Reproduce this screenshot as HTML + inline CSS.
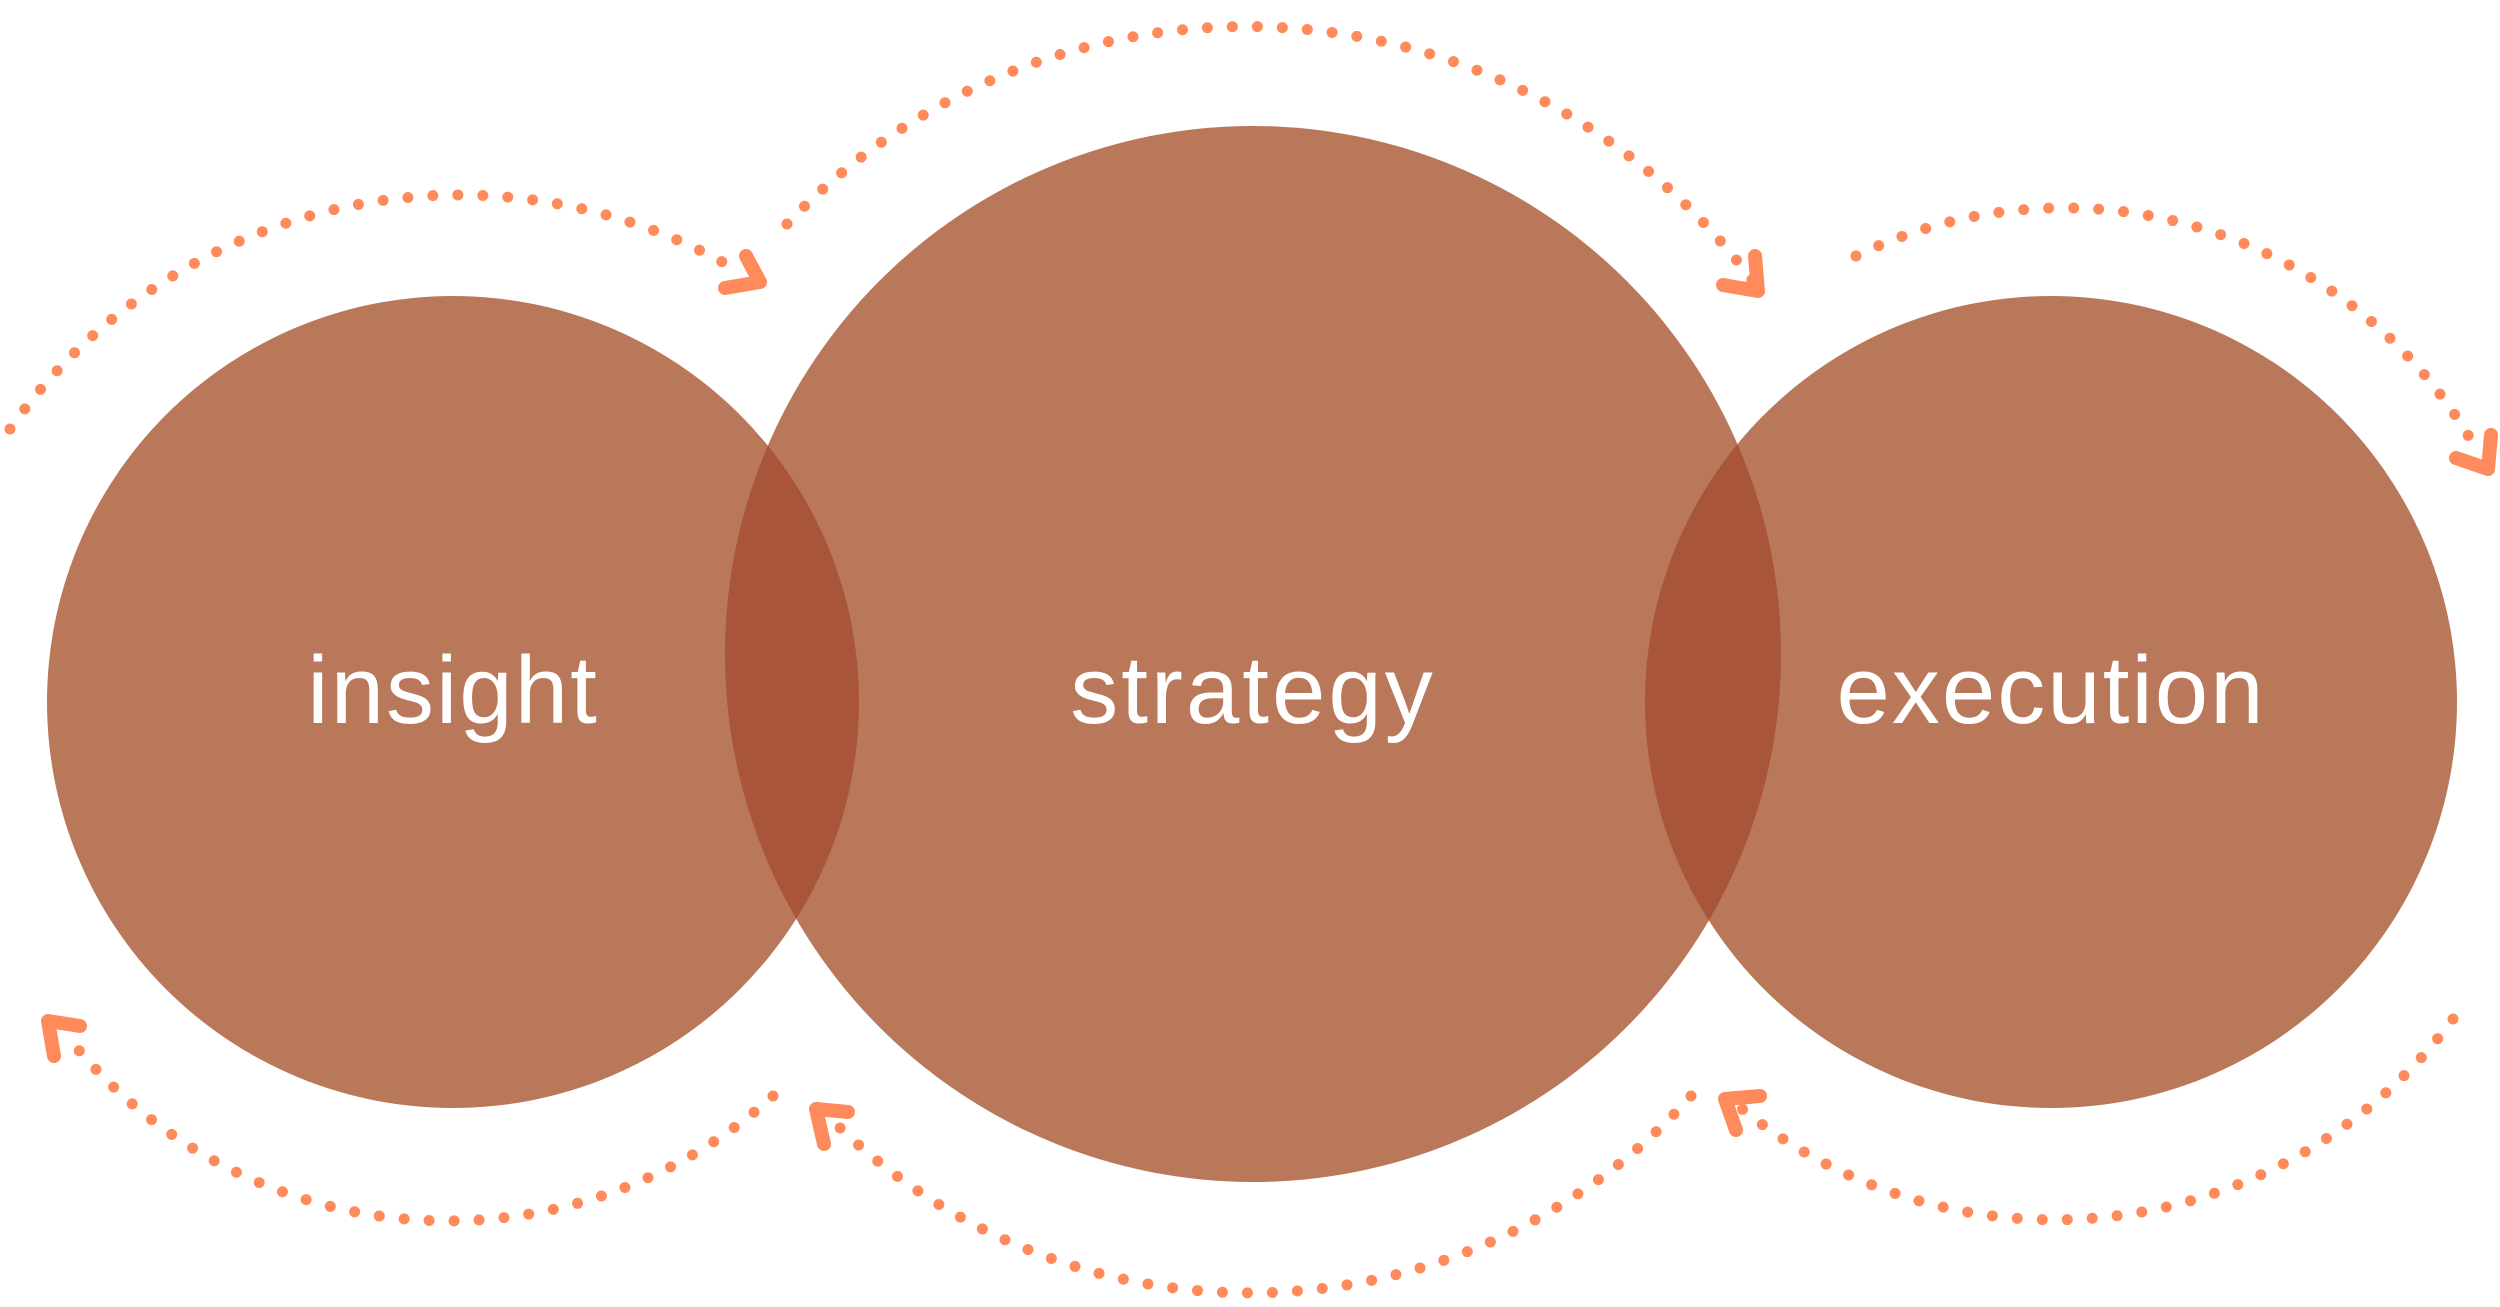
<!DOCTYPE html>
<html><head><meta charset="utf-8"><style>
html,body{margin:0;padding:0;background:#fff;}
svg{display:block;}
text{font-family:"Liberation Sans",sans-serif;fill:#fff;font-size:96px;text-anchor:middle;}
</style></head><body>
<svg width="2500" height="1307" viewBox="0 0 2500 1307" xmlns="http://www.w3.org/2000/svg">
<defs>
<clipPath id="cl"><circle cx="453" cy="702" r="406"/></clipPath>
<clipPath id="cr"><circle cx="2051" cy="702" r="406"/></clipPath>
</defs>
<circle cx="453" cy="702" r="406" fill="#BA785A"/>
<circle cx="2051" cy="702" r="406" fill="#BA785A"/>
<circle cx="1253" cy="654" r="528" fill="#BA785A"/>
<circle cx="1253" cy="654" r="528" fill="#A9553A" clip-path="url(#cl)"/>
<circle cx="1253" cy="654" r="528" fill="#A9553A" clip-path="url(#cr)"/>
<text x="453" y="723" letter-spacing="2">insight</text>
<text x="1253" y="723" letter-spacing="3">strategy</text>
<text x="2051" y="723" letter-spacing="2">execution</text>
<g fill="none" stroke="#FF8A5B" stroke-width="11" stroke-linecap="round" stroke-dasharray="0 25">
<path d="M10,429 A549,549 0 0 1 740,272"/>
<path d="M787,224 A632,632 0 0 1 1752,280"/>
<path d="M1856,256 A473,473 0 0 1 2480,456"/>
<path d="M773,1096 A485,485 0 0 1 64,1032"/>
<path d="M1691,1096 A592,592 0 0 1 832,1120"/>
<path d="M2453,1019 A496,496 0 0 1 1736,1104"/>
</g>
<g fill="none" stroke="#FF8A5B" stroke-width="14" stroke-linecap="round" stroke-linejoin="round">
<polyline points="746,256 760,282 725,288"/>
<polyline points="1755,256 1758,291 1723,285"/>
<polyline points="2491,435 2488,469 2456,458"/>
<polyline points="80,1026 48,1021 54,1056"/>
<polyline points="848,1112 816,1109 824,1144"/>
<polyline points="1760,1096 1725,1099 1736,1130"/>
</g>
</svg>
</body></html>
